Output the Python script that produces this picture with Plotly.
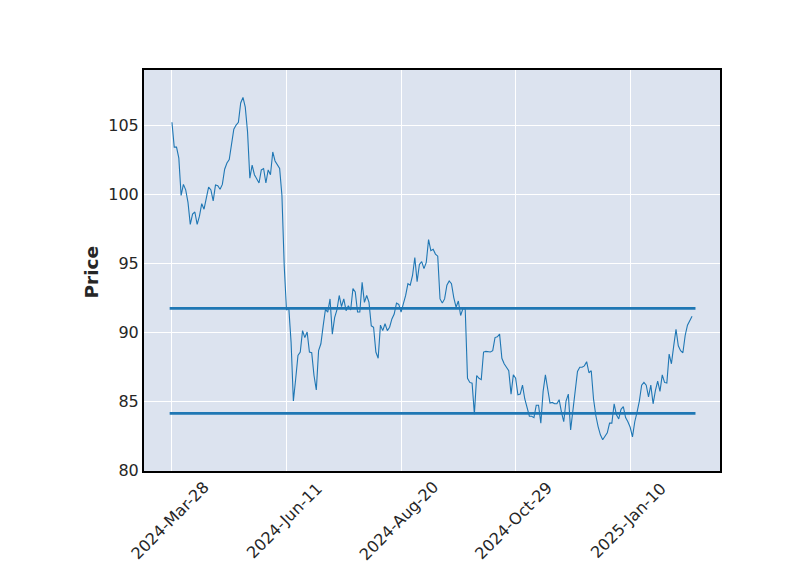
import plotly.graph_objects as go

# Closing prices, one per trading session
close = [
    105.2, 103.4, 103.4, 102.6, 99.9, 100.7, 100.3, 99.4, 97.8, 98.55,
    98.7, 97.8, 98.4, 99.3, 98.9, 99.8, 100.5, 100.3, 99.5, 100.65,
    100.6, 100.35, 100.7, 101.8, 102.25, 102.5, 103.6, 104.7, 105.0, 105.2,
    106.6, 107.0, 106.3, 104.5, 101.15, 102.1, 101.4, 101.1, 100.8, 101.75,
    101.85, 100.8, 101.75, 101.4, 103.05, 102.4, 102.1, 101.85, 99.9, 94.8,
    91.6, 91.75, 89.25, 85.0, 86.6, 88.3, 88.55, 90.1, 89.6, 90.0,
    88.55, 88.5, 86.85, 85.8, 88.65, 89.15, 90.45, 91.65, 91.45, 92.4,
    89.85, 91.05, 91.6, 92.65, 91.85, 92.4, 91.55, 91.9, 91.6, 93.15,
    92.9, 91.45, 91.45, 93.6, 92.15, 92.65, 92.15, 90.45, 90.35, 88.55,
    88.1, 90.5, 90.1, 90.6, 90.1, 90.35, 90.95, 91.3, 92.1, 92.0,
    91.45, 92.0, 92.65, 93.5, 93.4, 94.1, 95.4, 93.65, 94.9, 95.1,
    94.6, 95.05, 96.7, 95.9, 96.0, 95.65, 95.5, 92.4, 92.1, 92.4,
    93.4, 93.7, 93.5, 92.5, 91.8, 92.25, 91.2, 91.7, 91.65, 86.65,
    86.35, 86.3, 84.05, 86.85, 86.65, 86.55, 88.55, 88.6, 88.55, 88.55,
    88.65, 89.6, 89.65, 89.85, 88.1, 87.7, 87.45, 87.2, 85.5, 86.9,
    86.65, 85.45, 85.5, 86.15, 85.15, 84.55, 83.9, 83.9, 83.8, 84.7,
    84.7, 83.4, 85.7, 86.9, 85.85, 84.85, 84.9, 84.8, 84.8, 85.1,
    84.2, 83.5, 85.0, 85.5, 82.9, 84.3, 85.85, 87.15, 87.45, 87.45,
    87.55, 87.85, 87.05, 87.2, 85.15, 83.95, 83.15, 82.55, 82.2, 82.45,
    82.7, 83.4, 83.4, 84.8, 84.0, 83.7, 84.4, 84.6, 83.8, 83.5,
    83.1, 82.4, 83.5, 84.2, 85.0, 86.15, 86.35, 86.15, 85.3, 86.15,
    84.8, 85.75, 86.45, 85.7, 86.9, 86.35, 86.3, 88.4, 87.7, 89.0,
    90.2, 89.0, 88.65, 88.5, 89.75, 90.5, 90.8, 91.15,
]

# Date labels shown on the x axis and the session index each one belongs to
tick_sessions = [0, 50, 100, 150, 200]
tick_labels = ["2024-Mar-28", "2024-Jun-11", "2024-Aug-20", "2024-Oct-29", "2025-Jan-10"]

# Horizontal reference levels
hline_values = [91.72, 84.11]

y_ticks = [80, 85, 90, 95, 100, 105]

FONT = "DejaVu Sans"
LINE_COLOR = "#1f77b4"
TEXT_COLOR = "#262626"

n = len(close)
sessions = list(range(n))

fig = go.Figure()
fig.add_trace(go.Scatter(
    x=sessions, y=close, mode="lines",
    line=dict(color=LINE_COLOR, width=1.1),
    hoverinfo="skip", showlegend=False,
))

for level in hline_values:
    fig.add_shape(
        type="line", xref="x", yref="y",
        x0=-1, x1=n + 0.5, y0=level, y1=level,
        line=dict(color=LINE_COLOR, width=2.8),
    )

for pos, label in zip(tick_sessions, tick_labels):
    fig.add_annotation(
        x=pos, xref="x", y=-0.123, yref="paper",
        text=label, textangle=-45, showarrow=False,
        xanchor="center", yanchor="middle", xshift=-2,
        font=dict(family=FONT, size=16, color=TEXT_COLOR),
    )

fig.add_annotation(
    x=-0.0903, xref="paper", y=0.4975, yref="paper",
    text="<b>Price</b>", textangle=-90, showarrow=False,
    xanchor="center", yanchor="middle",
    font=dict(family=FONT, size=18.5, color=TEXT_COLOR),
)

fig.update_layout(
    width=800, height=575,
    margin=dict(l=144, r=80, t=70, b=104),
    paper_bgcolor="white",
    plot_bgcolor="#DCE3EF",
    font=dict(family=FONT, size=16, color=TEXT_COLOR),
    showlegend=False,
    xaxis=dict(
        range=[-12.2, 239.2],
        tickmode="array", tickvals=tick_sessions,
        showticklabels=False, ticks="",
        showgrid=True, gridcolor="white", gridwidth=1,
        zeroline=False,
        showline=True, linecolor="black", linewidth=2, mirror=True,
    ),
    yaxis=dict(
        range=[79.93, 108.99],
        tickmode="array", tickvals=y_ticks,
        ticktext=[str(v) for v in y_ticks],
        ticks="",
        showgrid=True, gridcolor="white", gridwidth=1,
        zeroline=False,
        showline=True, linecolor="black", linewidth=2, mirror=True,
        tickfont=dict(family=FONT, size=16, color=TEXT_COLOR),
    ),
)

fig.write_html("out.html")
